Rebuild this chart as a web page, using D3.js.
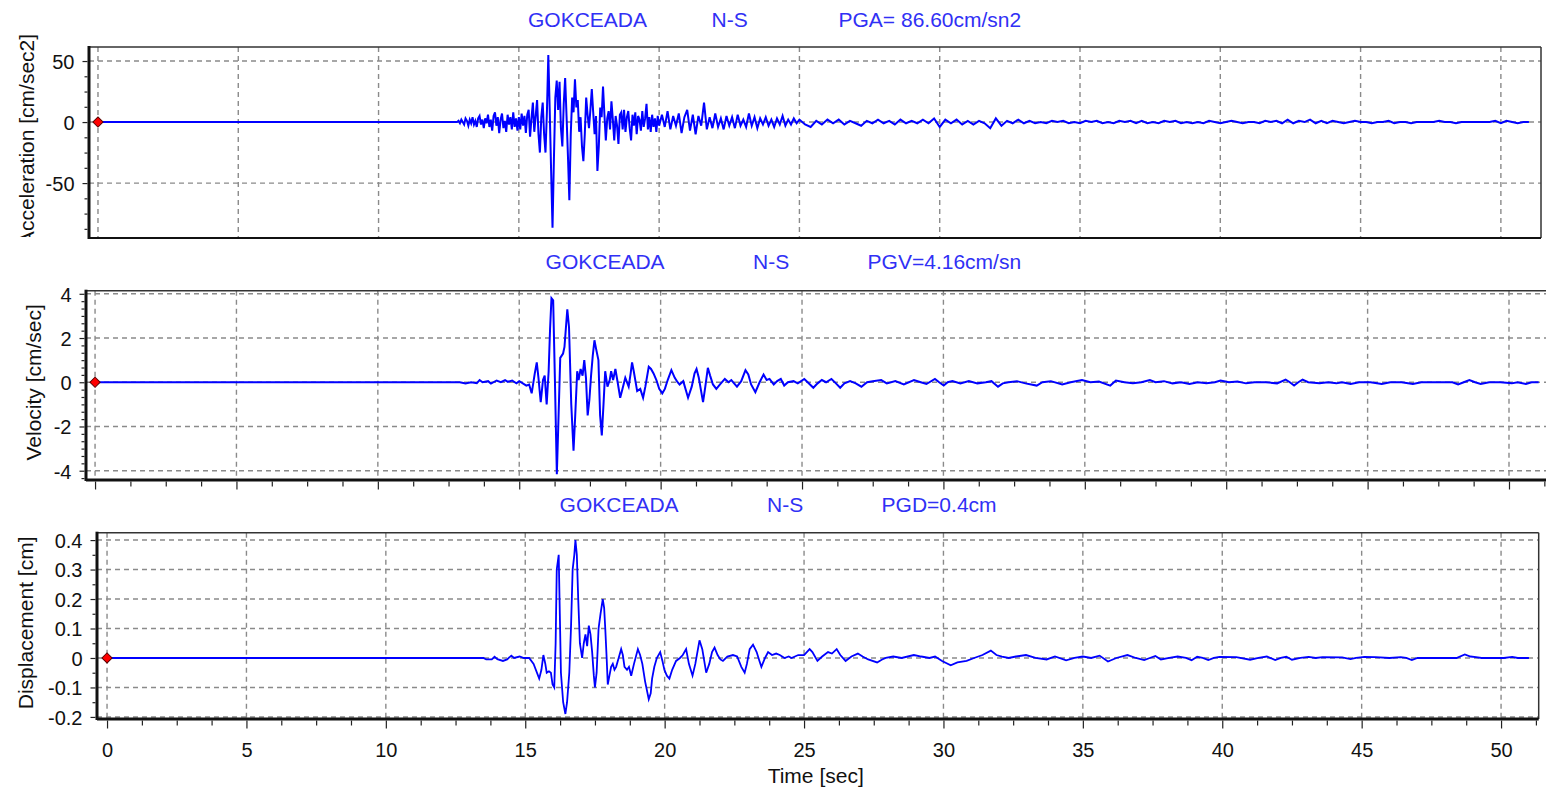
<!DOCTYPE html>
<html>
<head>
<meta charset="utf-8">
<script src="https://cdn.jsdelivr.net/npm/d3@7"></script>
<style>
  body { margin: 0; background: #fff; }
  svg { display: block; font-family: "Liberation Sans", Arial, sans-serif; }
</style>
</head>
<body>
<svg id="chart" width="1546" height="788"></svg>
<script>
  // ---- values ----
  const timeTicks = [0, 5, 10, 15, 20, 25, 30, 35, 40, 45, 50];
  const accTicks = [-50, 0, 50];
  const velTicks = [-4, -2, 0, 2, 4];
  const dispTicks = [-0.2, -0.1, 0, 0.1, 0.2, 0.3, 0.4];

  const station = "GOKCEADA";
  const component = "N-S";
  const peakLabels = ["PGA= 86.60cm/sn2", "PGV=4.16cm/sn", "PGD=0.4cm"];
  const axisTitles = ["Acceleration [cm/sec2]", "Velocity [cm/sec]", "Displacement [cm]"];
  const timeTitle = "Time [sec]";

  // acceleration, onset and strong part, every 0.05 s from 12.8 s to 20.0 s
  const accStart = 12.8, accStep = 0.05;
  const accStrong = [
    0, 1, -1, 2, 0, -2, 3, 1, -3, 2, -1, 4, -2, 1, -4, 3, 5, -2, 2, -5,
    3, -1, 6, -4, 2, -7, 5, 8, -3, 4, -9, 2, 7, -5, 1, -8, 6, -2, 4, -6,
    8, -4, 3, -7,
    4, -6, 7, -3, 5, -9, 6, 10, -12, 3, 16, -8, 5, 18, -10, -25, 4, 16, -10, -25,
    8, 55, 10, -40, -86.6, -30, 20, 34, 10, 33, -5, -20, 15, 36, 5, -28, -64, -10, 20, 8,
    35, 12, 18, -8, 4, -20, -32, -10, 20, 6, -5, 10, 27, 8, -10, 5, -40, -20, 12, 4,
    29, 6, -15, 3, 9, -6, 17, 2, -15, 5, -3, -18, 6, 8, -6, 10, -8, 4, 9, -5,
    -15, 6, -3, 8, -10, 5, 2, -7, 9, -4, 3, 15, -6, 4, -8, 6, -4, 3, -8, 5,
    -3
  ];
  // acceleration, every 0.1 s from 20.1 s to 25.0 s
  const accMidStart = 20.1, accMidStep = 0.1;
  const accMid = [
    6, -4, 9, -6, 5, -3, 7, -9, 4, 10,
    -7, 6, -10, 5, -3, 16, -6, 4, -5, 7,
    -4, 3, -6, 5, -3, 4, -5, 6, -3, 2,
    -4, 7, -3, 4, -5, 3, -2, 4, -3, 2,
    -4, 3, -2, 5, -3, 2, -2, 3, -1, 2
  ];
  // acceleration coda, every 0.2 s from 25.2 s
  const accTailStart = 25.2, accTailStep = 0.2;
  const accTail = [
    -2, -4, 1, -2, 2, -1, 2, -2, 1, -1,
    -3, 1, -1, 2, -1, 1, -2, 2, -1, 1,
    -1, 2, -1, 3, -4, 2, -1, 2, -2, 1,
    -2, 1, -1, -5, 3, -3, 1, -1, 2, -1,
    1, -1, 0, -1, 1, 0, 1, -1, 0, -1,
    1, 0, 1, -1, 0, -1, 1, 0, 1, -1,
    1, -1, 0, -1, 1, 0, 1, -1, 0, -1,
    0, -1, 1, 0, -1, 0, 1, 0, -1, 0,
    0, -1, 1, 0, 1, -1, 2, -1, 1, 0,
    2, -1, 1, -1, 1, 0, -1, 0, 1, 0,
    0, -1, 0, 0, 1, -1, 0, 0, -1, 0,
    0, 0, 0, 1, 0, 0, -1, 0, 0, 0,
    0, 0, 0, 1, -1, 1, 0, -1, 0, 0
  ];

  // velocity [time, cm/sec]
  const velocityData = [
    [0,0],[12.9,0],[13.1,-0.05],[13.3,0],[13.5,-0.04],[13.6,0.1],[13.7,0],[13.9,0.05],[14.0,-0.06],[14.2,0.08],
    [14.35,0],[14.5,0.1],[14.6,0.02],[14.75,0.08],[14.9,-0.05],[15.0,0.05],[15.1,-0.03],[15.25,-0.15],[15.35,-0.1],
    [15.44,-0.5],[15.55,0.4],[15.62,0.9],[15.68,0.2],[15.76,-0.9],[15.84,0.1],[15.9,0.3],[15.97,-1.0],[16.04,0.5],
    [16.09,2.4],[16.14,3.8],[16.2,3.7],[16.26,0.2],[16.33,-4.16],[16.38,-2.0],[16.45,1.1],[16.55,1.3],[16.6,1.6],
    [16.7,3.3],[16.76,2.5],[16.84,-1.0],[16.92,-3.1],[16.98,-1.5],[17.05,0.5],[17.1,0.1],[17.17,0.6],[17.24,0.3],
    [17.3,1.0],[17.36,0.2],[17.42,-1.5],[17.48,-0.8],[17.54,0.3],[17.6,1.2],[17.66,1.9],[17.72,1.5],[17.8,1.0],
    [17.86,-1.5],[17.92,-2.4],[17.98,-1.0],[18.04,0.5],[18.12,-0.2],[18.2,0.1],[18.25,0.5],[18.32,0.1],[18.4,0.6],
    [18.48,0.0],[18.57,-0.7],[18.65,-0.3],[18.75,0.2],[18.87,-0.2],[18.94,0.4],[18.99,0.9],[19.05,0.5],[19.17,-0.4],
    [19.28,-0.3],[19.38,-0.7],[19.46,-0.2],[19.58,0.7],[19.66,0.6],[19.75,0.4],[19.85,0.1],[19.95,-0.3],[20.06,-0.5],
    [20.15,-0.3],[20.25,0.1],[20.38,0.55],[20.5,0.2],[20.6,0.0],[20.67,-0.1],[20.8,0.05],[20.97,-0.7],[21.1,-0.2],
    [21.2,0.4],[21.27,0.6],[21.35,0.2],[21.5,-0.9],[21.58,-0.2],[21.67,0.65],[21.75,0.3],[21.85,-0.1],[21.97,-0.3],
    [22.1,-0.1],[22.27,0.15],[22.4,0.0],[22.5,0.1],[22.7,-0.2],[22.85,0.05],[23.0,0.55],[23.1,0.35],[23.2,-0.1],
    [23.35,-0.45],[23.5,0.0],[23.64,0.35],[23.75,0.1],[23.85,0.15],[24.0,-0.1],[24.12,0.05],[24.25,0.15],[24.37,-0.15],
    [24.5,0.0],[24.7,0.05],[24.85,-0.05],[25.08,0.15],[25.2,0.0],[25.4,-0.25],[25.55,-0.05],[25.7,0.1],[25.85,0.0],
    [26.04,0.15],[26.2,-0.05],[26.35,-0.25],[26.5,-0.05],[26.7,0.05],[26.9,-0.05],[27.1,-0.2],[27.3,0.0],[27.5,0.05],
    [27.8,0.1],[28.0,-0.05],[28.3,0.05],[28.6,-0.1],[28.96,0.1],[29.2,0.0],[29.4,-0.08],[29.7,0.15],[29.85,0.0],
    [30.01,-0.15],[30.15,0.0],[30.32,0.05],[30.6,-0.05],[30.9,0.05],[31.2,-0.05],[31.5,0.0],[31.7,0.05],[31.93,-0.2],
    [32.1,-0.05],[32.3,0.0],[32.6,0.05],[32.9,-0.05],[33.3,-0.15],[33.5,0.0],[33.8,0.05],[34.2,-0.1],[34.5,0.0],
    [34.9,0.1],[35.2,0.0],[35.5,0.03],[35.9,-0.15],[36.1,0.08],[36.4,0.0],[36.7,-0.05],[37.0,0.0],[37.3,0.1],
    [37.5,0.0],[37.8,0.05],[38.1,-0.05],[38.4,0.0],[38.7,-0.08],[39.0,0.0],[39.3,-0.05],[39.6,0.0],[39.8,0.08],
    [40.1,0.0],[40.4,0.03],[40.7,-0.05],[41.0,0.0],[41.4,0.0],[41.8,-0.05],[42.1,0.12],[42.25,0.0],[42.4,-0.15],
    [42.55,0.0],[42.7,0.12],[42.9,0.0],[43.3,-0.05],[43.6,0.0],[43.9,-0.05],[44.1,0.0],[44.4,-0.08],[44.7,0.0],
    [45.1,0.0],[45.5,-0.08],[45.8,0.0],[46.2,0.0],[46.6,-0.08],[46.9,0.0],[47.5,0.0],[48.0,0.0],[48.2,-0.1],
    [48.4,0.0],[48.6,0.1],[48.8,0.0],[49.0,-0.08],[49.3,0.0],[49.7,0.0],[50.1,-0.05],[50.3,0.0],[50.6,-0.08],
    [50.8,0.0],[51.05,0.0]
  ];

  // displacement [time, cm]
  const displacementData = [
    [0,0],[13.5,0],[13.6,-0.005],[13.8,-0.005],[13.9,0.004],[14.0,-0.004],[14.2,-0.01],[14.35,-0.005],[14.5,0.008],
    [14.6,0.0],[14.8,0.005],[14.95,0.0],[15.14,0.0],[15.3,-0.02],[15.5,-0.07],[15.58,-0.04],[15.65,0.01],[15.72,-0.02],
    [15.77,-0.05],[15.85,-0.045],[15.92,-0.05],[15.98,-0.09],[16.04,-0.1],[16.09,0.05],[16.13,0.3],[16.2,0.35],
    [16.24,0.15],[16.28,-0.05],[16.36,-0.15],[16.44,-0.19],[16.5,-0.15],[16.58,-0.05],[16.64,0.1],[16.7,0.3],
    [16.76,0.35],[16.8,0.4],[16.85,0.35],[16.9,0.2],[16.96,0.05],[17.04,0.0],[17.1,0.05],[17.16,0.08],[17.22,0.04],
    [17.28,0.11],[17.34,0.08],[17.4,0.02],[17.46,-0.06],[17.5,-0.1],[17.56,-0.05],[17.63,0.1],[17.7,0.15],[17.78,0.2],
    [17.83,0.17],[17.87,0.1],[17.92,0.0],[17.96,-0.09],[18.02,-0.06],[18.08,-0.03],[18.14,-0.02],[18.2,-0.04],
    [18.26,-0.03],[18.35,0.0],[18.44,0.03],[18.5,0.01],[18.56,-0.03],[18.65,-0.04],[18.72,-0.03],[18.8,-0.06],
    [18.9,-0.02],[19.04,0.03],[19.12,0.01],[19.2,-0.02],[19.3,-0.08],[19.43,-0.14],[19.5,-0.12],[19.55,-0.07],
    [19.63,-0.03],[19.72,0.0],[19.84,0.02],[19.92,-0.01],[19.99,-0.04],[20.08,-0.06],[20.17,-0.07],[20.27,-0.04],
    [20.41,-0.01],[20.55,0.0],[20.65,0.01],[20.77,0.03],[20.87,-0.02],[21.0,-0.06],[21.1,-0.02],[21.25,0.06],
    [21.35,0.03],[21.49,-0.05],[21.6,-0.02],[21.7,0.02],[21.79,0.035],[21.9,0.01],[22.0,-0.005],[22.09,-0.01],
    [22.25,0.005],[22.45,0.01],[22.6,0.005],[22.75,-0.03],[22.87,-0.05],[22.95,-0.02],[23.05,0.03],[23.17,0.045],
    [23.3,0.02],[23.4,-0.01],[23.47,-0.03],[23.6,0.0],[23.71,0.02],[23.85,0.01],[24.0,0.015],[24.13,0.01],[24.3,0.0],
    [24.45,0.005],[24.55,0.0],[24.79,0.01],[25.0,0.01],[25.2,0.03],[25.3,0.02],[25.48,-0.01],[25.65,0.005],
    [25.86,0.02],[26.0,0.015],[26.17,0.03],[26.3,0.01],[26.49,-0.01],[26.7,0.005],[26.93,0.015],[27.1,0.005],
    [27.3,-0.005],[27.62,-0.015],[27.8,-0.005],[27.93,0.0],[28.2,0.005],[28.5,0.0],[28.94,0.01],[29.2,0.005],
    [29.5,0.0],[29.7,0.005],[29.95,-0.01],[30.26,-0.025],[30.5,-0.015],[30.83,-0.01],[31.1,0.0],[31.4,0.01],
    [31.7,0.025],[31.9,0.01],[32.1,0.005],[32.34,0.0],[32.6,0.005],[32.96,0.01],[33.3,0.0],[33.7,-0.005],[34.0,0.005],
    [34.4,-0.008],[34.7,0.0],[35.0,0.005],[35.3,0.0],[35.6,0.008],[35.9,-0.012],[36.2,0.0],[36.6,0.01],[36.9,0.0],
    [37.2,-0.007],[37.4,0.0],[37.6,0.007],[37.8,-0.005],[38.1,0.0],[38.4,0.005],[38.7,0.0],[38.9,-0.008],[39.1,0.004],
    [39.3,0.0],[39.5,-0.007],[39.7,0.0],[39.9,0.004],[40.5,0.003],[41.0,-0.006],[41.3,0.0],[41.6,0.005],[41.9,-0.007],
    [42.1,0.0],[42.3,0.004],[42.5,-0.006],[42.8,0.0],[43.1,0.004],[43.35,0.0],[43.6,0.003],[44.3,0.002],[44.6,-0.004],
    [44.8,0.0],[45.1,0.004],[45.5,0.003],[46.0,0.0],[46.4,0.003],[46.6,0.0],[46.8,-0.007],[47.0,0.0],[48.4,0.0],
    [48.7,0.012],[48.9,0.005],[49.1,0.003],[49.3,0.0],[50.1,0.0],[50.4,0.004],[50.6,0.0],[51.0,0.0]
  ];

  const accelerationData = [[0, 0]]
    .concat(accStrong.map((v, i) => [accStart + i * accStep, v]))
    .concat(accMid.map((v, i) => [accMidStart + i * accMidStep, v]))
    .concat(accTail.map((v, i) => [accTailStart + i * accTailStep, v]));

  // ---- layout of the three windows ----
  const panels = [
    { data: accelerationData, peak: peakLabels[0], yTitle: axisTitles[0], yTicks: accTicks, yMinorPer: 4,
      xDomain: [-0.32, 51.43], yDomain: [-95, 61.5],
      left: 89, right: 1541, top: 47, bottom: 238,
      titleY: 26.7, titleX: [528, 711.5, 838.5], labelX: 34, labelShift: -3, labelClip: 237,
      frame: { left: 3, top: 1.5, right: 1.5, bottom: 2 }, lineWidth: 2, xAxis: null },
    { data: velocityData, peak: peakLabels[1], yTitle: axisTitles[1], yTicks: velTicks, yMinorPer: 6,
      xDomain: [-0.32, 51.45], yDomain: [-4.42, 4.14],
      left: 86, right: 1550, top: 290.7, bottom: 480,
      titleY: 269, titleX: [545.6, 753, 867.6], labelX: 41, labelShift: -3, labelClip: null,
      frame: { left: 3, top: 1.5, right: 0, bottom: 3 }, lineWidth: 2, xAxis: "ticks" },
    { data: displacementData, peak: peakLabels[2], yTitle: axisTitles[2], yTicks: dispTicks, yMinorPer: 2,
      xDomain: [-0.36, 51.35], yDomain: [-0.207, 0.425],
      left: 97, right: 1538.7, top: 532.7, bottom: 719,
      titleY: 511.7, titleX: [559.6, 767, 881.6], labelX: 33, labelShift: -3, labelClip: null,
      frame: { left: 3, top: 1.5, right: 1.5, bottom: 3 }, lineWidth: 1.8, xAxis: "labels" }
  ];

  const svg = d3.select("#chart");
  const gridColor = "#8a8a8a";
  const titleColor = "#3030f5";

  function minorValues(majors, per, domain) {
    const step = (majors[1] - majors[0]) / per;
    const base = majors[0];
    const lo = Math.ceil((domain[0] - base) / step - 1e-9);
    const hi = Math.floor((domain[1] - base) / step + 1e-9);
    return d3.range(lo, hi + 1)
      .filter(k => ((k % per) + per) % per !== 0)
      .map(k => base + k * step);
  }

  panels.forEach((p, idx) => {
    const x = d3.scaleLinear().domain(p.xDomain).range([p.left, p.right]);
    const y = d3.scaleLinear().domain(p.yDomain).range([p.bottom, p.top]);
    const g = svg.append("g").attr("class", "panel" + idx);

    // titles over each window
    const titleTexts = [station, component, p.peak];
    g.selectAll("text.title")
      .data(titleTexts)
      .enter().append("text")
      .attr("class", "title")
      .attr("x", (d, i) => p.titleX[i])
      .attr("y", p.titleY)
      .attr("font-size", "21px")
      .attr("fill", titleColor)
      .text(d => d);

    // clip for the trace
    const clipId = "clip" + idx;
    svg.append("clipPath").attr("id", clipId)
      .append("rect")
      .attr("x", p.left).attr("y", p.top)
      .attr("width", p.right - p.left).attr("height", p.bottom - p.top);

    // dashed grid
    const grid = g.append("g").attr("clip-path", `url(#${clipId})`)
      .attr("stroke", gridColor).attr("stroke-width", 1.4).attr("stroke-dasharray", "5,4");
    grid.selectAll("line.v")
      .data(timeTicks)
      .enter().append("line")
      .attr("x1", d => x(d)).attr("x2", d => x(d))
      .attr("y1", p.top).attr("y2", p.bottom);
    grid.selectAll("line.h")
      .data(p.yTicks)
      .enter().append("line")
      .attr("x1", p.left).attr("x2", p.right)
      .attr("y1", d => y(d)).attr("y2", d => y(d));

    // trace
    const line = d3.line().x(d => x(d[0])).y(d => y(d[1]));
    g.append("path")
      .datum(p.data)
      .attr("clip-path", `url(#${clipId})`)
      .attr("fill", "none")
      .attr("stroke", "#0000ff")
      .attr("stroke-width", p.lineWidth)
      .attr("stroke-linejoin", "miter")
      .attr("d", line);

    // start marker
    g.append("path")
      .attr("d", d3.symbol().type(d3.symbolSquare).size(52))
      .attr("transform", `translate(${x(0)},${y(0)}) rotate(45)`)
      .attr("fill", "#ff0000")
      .attr("stroke", "#5a0000")
      .attr("stroke-width", 1);

    // frame
    const f = p.frame;
    const frame = g.append("g").attr("stroke", "#111");
    if (f.top) frame.append("line").attr("x1", p.left).attr("x2", p.right).attr("y1", p.top).attr("y2", p.top).attr("stroke-width", f.top).attr("stroke", "#333");
    if (f.right) frame.append("line").attr("x1", p.right).attr("x2", p.right).attr("y1", p.top).attr("y2", p.bottom).attr("stroke-width", f.right).attr("stroke", "#333");
    if (f.bottom) frame.append("line").attr("x1", p.left).attr("x2", p.right).attr("y1", p.bottom).attr("y2", p.bottom).attr("stroke-width", f.bottom);
    if (f.left) frame.append("line").attr("x1", p.left).attr("x2", p.left).attr("y1", p.top - 1).attr("y2", p.bottom + 1).attr("stroke-width", f.left);

    // y axis
    const yAxis = d3.axisLeft(y).tickValues(p.yTicks).tickSize(5).tickPadding(8).tickFormat(d => String(d));
    const yG = g.append("g").attr("transform", `translate(${p.left - 1.5},0)`).call(yAxis);
    const yMinor = d3.axisLeft(y).tickValues(minorValues(p.yTicks, p.yMinorPer, p.yDomain)).tickSize(3).tickFormat("");
    const yGm = g.append("g").attr("transform", `translate(${p.left - 1.5},0)`).call(yMinor);
    [yG, yGm].forEach(a => {
      a.select(".domain").remove();
      a.selectAll(".tick line").attr("stroke", "#222").attr("stroke-width", 1.2);
    });
    yG.selectAll(".tick text")
      .attr("font-size", "20px")
      .attr("font-family", "Liberation Sans, Arial, sans-serif")
      .attr("fill", "#111")
      .attr("dy", "0.37em");

    // y title (the top window hides the start of its label, as in the source)
    const labelHolder = g.append("g");
    if (p.labelClip) {
      svg.append("clipPath").attr("id", "lclip" + idx)
        .append("rect").attr("x", 0).attr("y", 0).attr("width", 60).attr("height", p.labelClip);
      labelHolder.attr("clip-path", `url(#lclip${idx})`);
    }
    labelHolder.append("text")
      .attr("transform", `translate(${p.labelX},${(p.top + p.bottom) / 2 + p.labelShift}) rotate(-90)`)
      .attr("text-anchor", "middle")
      .attr("font-size", "21px")
      .attr("fill", "#111")
      .text(p.yTitle);

    // time axis under the lower windows
    if (p.xAxis) {
      const xAxis = d3.axisBottom(x).tickValues(timeTicks).tickSize(8).tickPadding(14)
        .tickFormat(p.xAxis === "labels" ? (d => String(d)) : "");
      const xG = g.append("g").attr("transform", `translate(0,${p.bottom + 1.5})`).call(xAxis);
      const xMinor = d3.axisBottom(x).tickValues(minorValues(timeTicks, 4, [0, p.xDomain[1]])).tickSize(5).tickFormat("");
      const xGm = g.append("g").attr("transform", `translate(0,${p.bottom + 1.5})`).call(xMinor);
      [xG, xGm].forEach(a => {
        a.select(".domain").remove();
        a.selectAll(".tick line").attr("stroke", "#222").attr("stroke-width", 1.2);
      });
      xG.selectAll(".tick text")
        .attr("font-size", "20px")
        .attr("font-family", "Liberation Sans, Arial, sans-serif")
        .attr("fill", "#111");
    }
  });

  svg.append("text")
    .attr("x", 815.7)
    .attr("y", 783)
    .attr("text-anchor", "middle")
    .attr("font-size", "21px")
    .attr("fill", "#111")
    .text(timeTitle);
</script>
</body>
</html>
